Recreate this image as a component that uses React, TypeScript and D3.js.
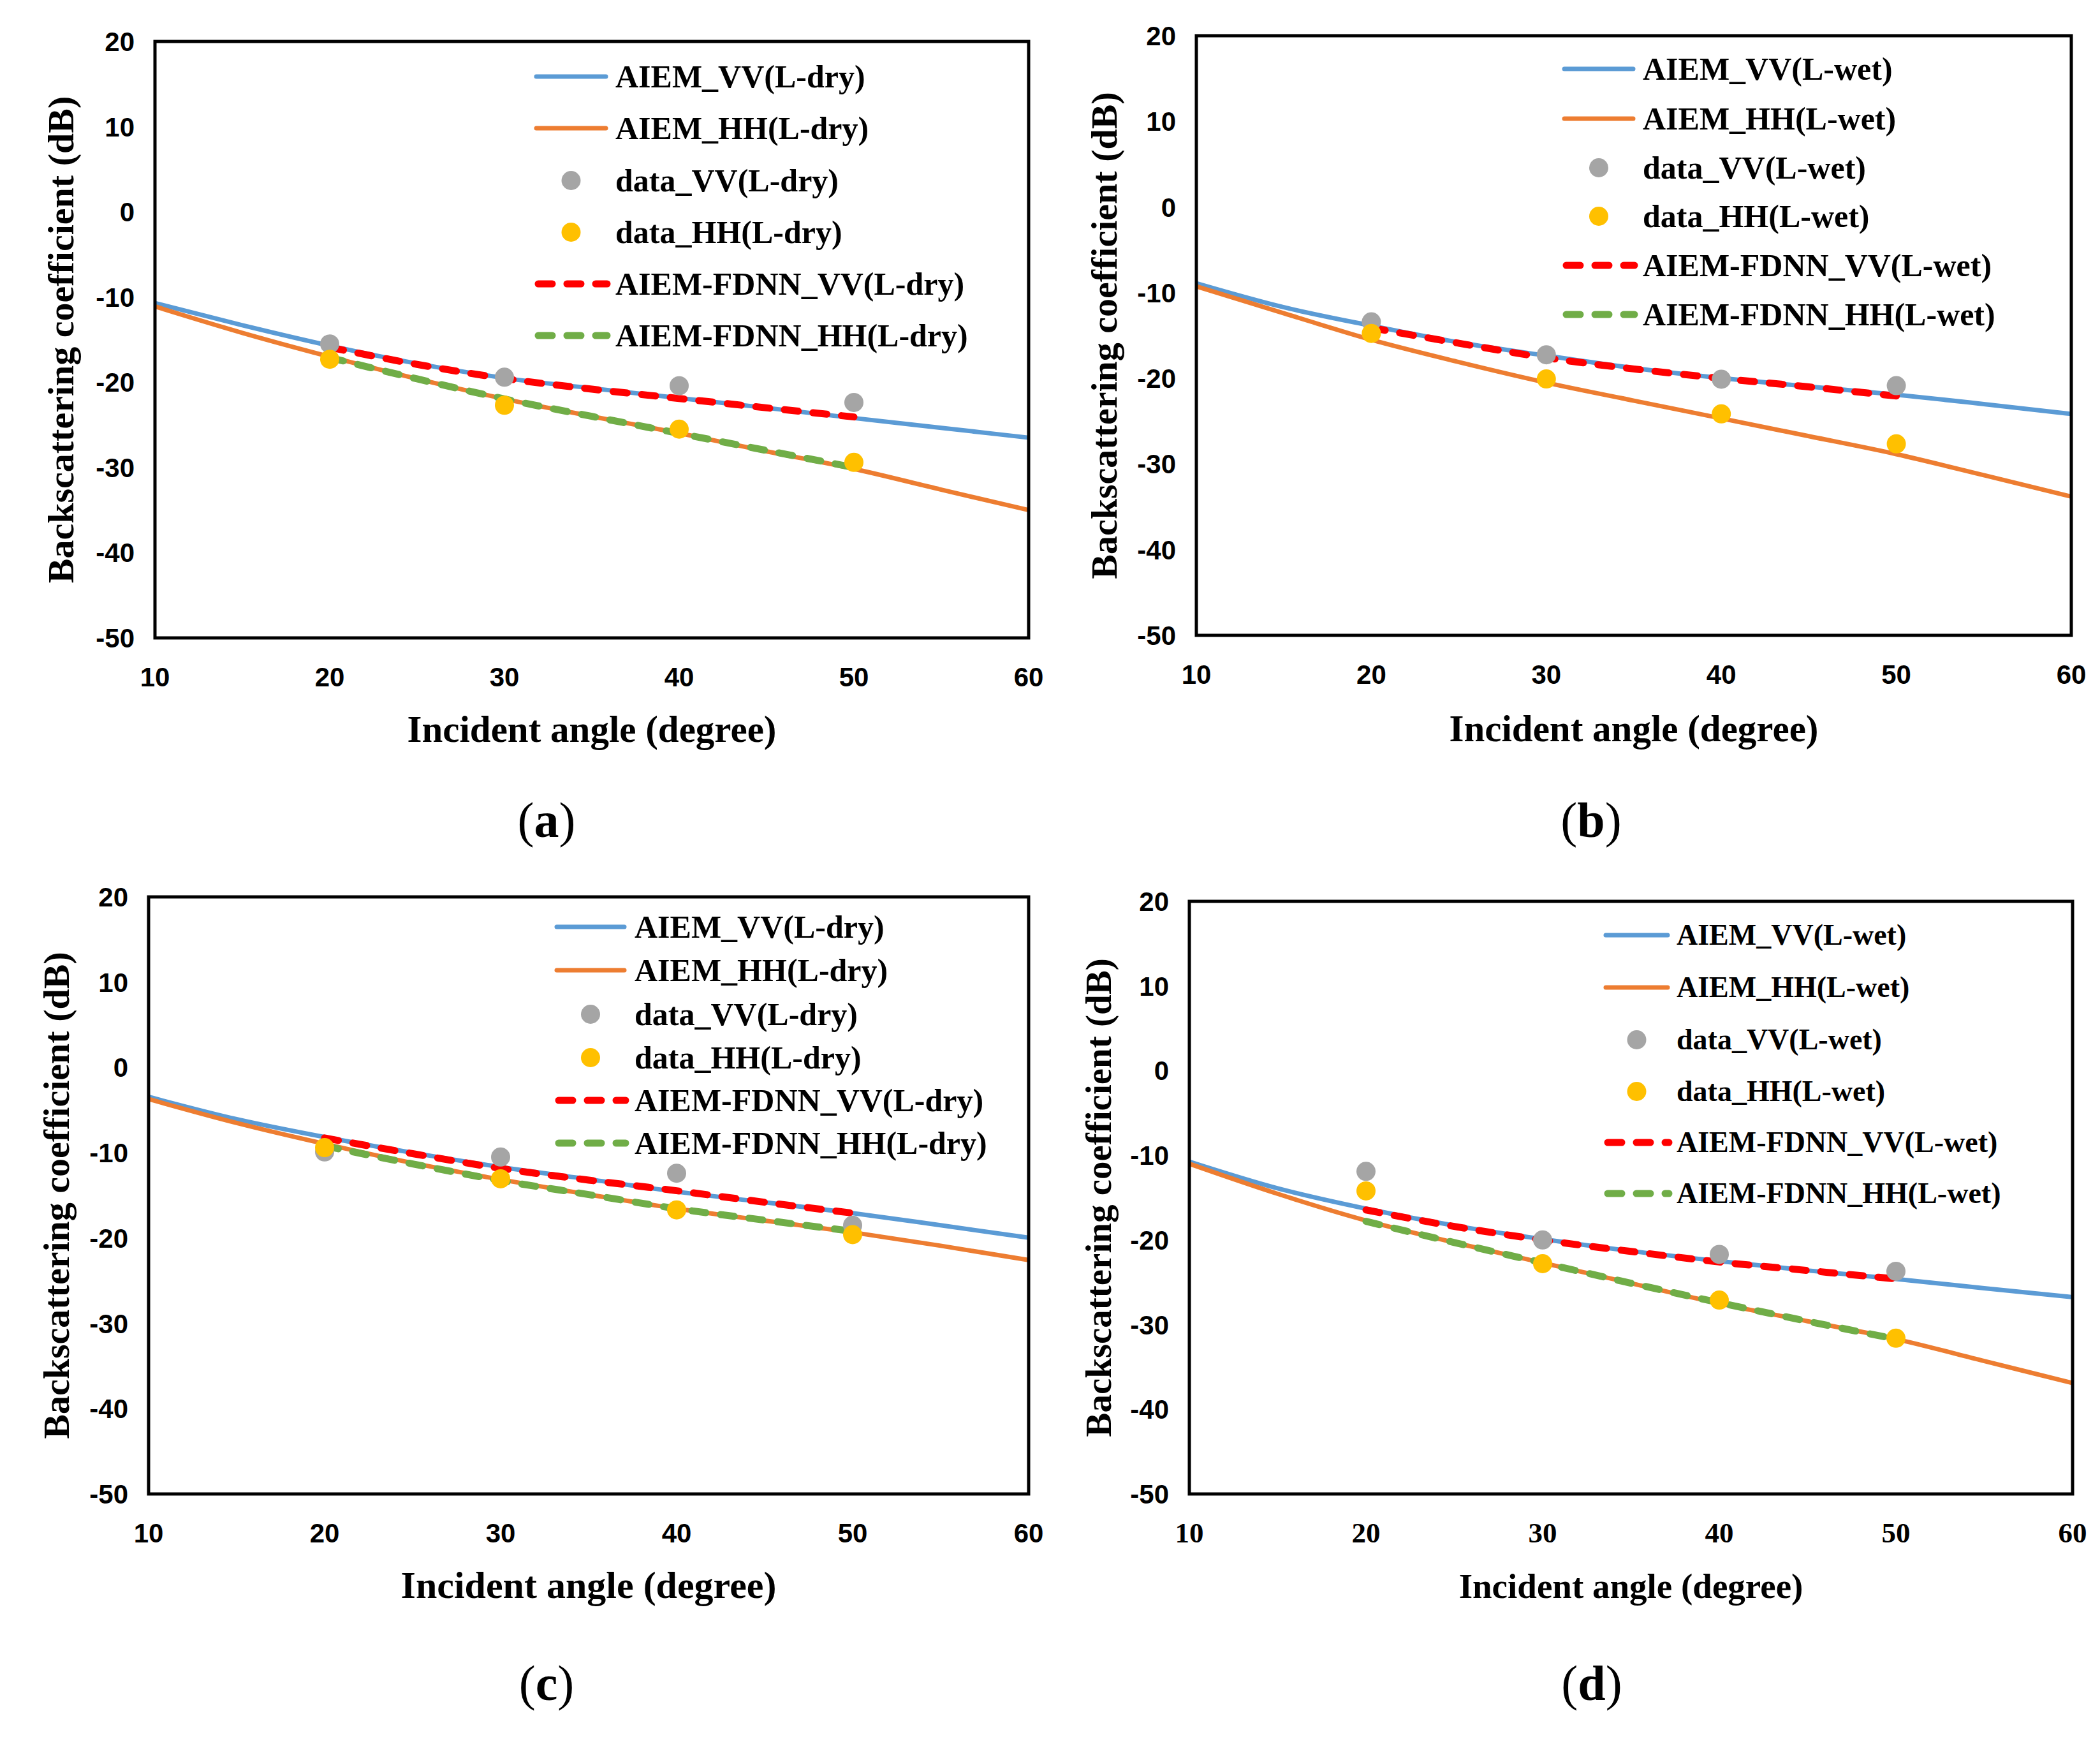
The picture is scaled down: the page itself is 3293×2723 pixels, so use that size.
import React from 'react';
import * as d3 from 'd3';

// Incident angles (degree)
const ANGLES_MODEL = [10, 15, 20, 25, 30, 35, 40, 45, 50, 55, 60];
const ANGLES_FDNN = [20, 25, 30, 35, 40, 45, 50];
const ANGLES_DATA = [20, 30, 40, 50];

const X_TICKS = [10, 20, 30, 40, 50, 60];
const Y_TICKS = [20, 10, 0, -10, -20, -30, -40, -50];

// (a) L-dry
const A_AIEM_VV = [-10.7, -13.3, -15.7, -17.8, -19.5, -20.7, -21.85, -23.0, -24.2, -25.35, -26.5];
const A_AIEM_HH = [-11.1, -14.2, -17.0, -19.6, -21.95, -24.0, -25.97, -28.1, -30.16, -32.6, -35.0];
const A_DATA_VV = [-15.5, -19.4, -20.4, -22.37];
const A_DATA_HH = [-17.3, -22.7, -25.5, -29.4];
const A_FDNN_VV = [-15.9, -17.9, -19.55, -20.8, -21.9, -23.0, -24.07];
const A_FDNN_HH = [-17.1, -19.6, -21.95, -24.0, -26.0, -28.0, -30.0];

// (b) L-wet
const B_AIEM_VV = [-8.9, -11.7, -13.85, -15.8, -17.35, -18.8, -19.97, -20.95, -21.9, -23.0, -24.15];
const B_AIEM_HH = [-9.26, -12.4, -15.5, -18.1, -20.5, -22.6, -24.67, -26.75, -28.85, -31.3, -33.8];
const B_DATA_VV = [-13.4, -17.25, -20.1, -20.85];
const B_DATA_HH = [-14.75, -20.07, -24.15, -27.65];
const B_FDNN_VV = [-14.1, -15.9, -17.6, -18.9, -20.0, -21.0, -22.06];
const B_FDNN_HH: number[] = [];

// (c) L-dry
const C_AIEM_VV = [-3.44, -6.06, -8.16, -10.0, -11.67, -13.1, -14.56, -15.8, -17.07, -18.5, -19.96];
const C_AIEM_HH = [-3.7, -6.5, -8.95, -11.2, -13.14, -14.9, -16.55, -17.95, -19.33, -20.9, -22.58];
const C_DATA_VV = [-9.9, -10.5, -12.4, -18.5];
const C_DATA_HH = [-9.4, -13.05, -16.7, -19.6];
const C_FDNN_VV = [-8.26, -10.1, -11.83, -13.2, -14.45, -15.8, -17.07];
const C_FDNN_HH = [-9.2, -11.3, -13.25, -14.9, -16.55, -17.9, -19.2];

// (d) L-wet
const D_AIEM_VV = [-10.75, -13.9, -16.3, -18.3, -19.9, -21.3, -22.5, -23.6, -24.6, -25.7, -26.75];
const D_AIEM_HH = [-11.0, -14.55, -17.7, -20.3, -22.7, -25.1, -27.5, -29.6, -31.7, -34.3, -36.9];
const D_DATA_VV = [-11.9, -20.0, -21.7, -23.7];
const D_DATA_HH = [-14.2, -22.8, -27.1, -31.6];
const D_FDNN_VV = [-16.45, -18.4, -20.0, -21.35, -22.6, -23.6, -24.6];
const D_FDNN_HH = [-17.8, -20.3, -22.7, -25.1, -27.4, -29.6, -31.7];

const SERIES = {
  a: { vv: A_AIEM_VV, hh: A_AIEM_HH, dvv: A_DATA_VV, dhh: A_DATA_HH, fvv: A_FDNN_VV, fhh: A_FDNN_HH },
  b: { vv: B_AIEM_VV, hh: B_AIEM_HH, dvv: B_DATA_VV, dhh: B_DATA_HH, fvv: B_FDNN_VV, fhh: B_FDNN_HH },
  c: { vv: C_AIEM_VV, hh: C_AIEM_HH, dvv: C_DATA_VV, dhh: C_DATA_HH, fvv: C_FDNN_VV, fhh: C_FDNN_HH },
  d: { vv: D_AIEM_VV, hh: D_AIEM_HH, dvv: D_DATA_VV, dhh: D_DATA_HH, fvv: D_FDNN_VV, fhh: D_FDNN_HH },
};

const CONDITION = { a: 'L-dry', b: 'L-wet', c: 'L-dry', d: 'L-wet' };

const COLORS = {
  vv: '#5B9BD5',
  hh: '#ED7D31',
  dvv: '#A5A5A5',
  dhh: '#FFC000',
  fvv: '#FF0000',
  fhh: '#70AD47',
};

const SANS = "'Liberation Sans', Arial, sans-serif";
const SERIF = "'Liberation Serif', 'Times New Roman', serif";

// Panel layout
const LAYOUT = [
  { id: 'a', left: 243, right: 1613, top: 65, bottom: 1000, yTitleX: 115, yTitleSize: 58, xTitleY: 1163, xTitleSize: 59,
    labelY: 1312, labelX: 857, legX: 841, legW: 109, legTextX: 965, legRows: [120, 201, 283, 364, 445, 526], legFont: 50, xTickSerif: false },
  { id: 'b', left: 1876, right: 3248, top: 56, bottom: 996, yTitleX: 1751, yTitleSize: 58, xTitleY: 1162, xTitleSize: 59,
    labelY: 1312, labelX: 2495, legX: 2453, legW: 108, legTextX: 2576, legRows: [108, 186, 263, 339, 416, 493], legFont: 50, xTickSerif: false },
  { id: 'c', left: 233, right: 1613, top: 1406, bottom: 2342, yTitleX: 108, yTitleSize: 58, xTitleY: 2505, xTitleSize: 60,
    labelY: 2665, labelX: 857, legX: 873, legW: 106, legTextX: 995, legRows: [1453, 1521, 1590, 1658, 1725, 1792], legFont: 50, xTickSerif: false },
  { id: 'd', left: 1865, right: 3250, top: 1413, bottom: 2342, yTitleX: 1742, yTitleSize: 57, xTitleY: 2505, xTitleSize: 55,
    labelY: 2665, labelX: 2496, legX: 2518, legW: 97, legTextX: 2629, legRows: [1466, 1548, 1630, 1711, 1791, 1871], legFont: 46, xTickSerif: true },
];

const DASH = '22 23';

function Panel({ cfg }) {
  const s = SERIES[cfg.id];
  const cond = CONDITION[cfg.id];
  const x = d3.scaleLinear().domain([10, 60]).range([cfg.left, cfg.right]);
  const y = d3.scaleLinear().domain([-50, 20]).range([cfg.bottom, cfg.top]);
  const line = d3
    .line<[number, number]>()
    .x((d) => x(d[0]))
    .y((d) => y(d[1]))
    .curve(d3.curveMonotoneX);

  const pairs = (xs: number[], ys: number[]) => ys.map((v, i) => [xs[i], v] as [number, number]);

  const legendItems = [
    { key: 'vv', kind: 'line', label: `AIEM_VV(${cond})` },
    { key: 'hh', kind: 'line', label: `AIEM_HH(${cond})` },
    { key: 'dvv', kind: 'dot', label: `data_VV(${cond})` },
    { key: 'dhh', kind: 'dot', label: `data_HH(${cond})` },
    { key: 'fvv', kind: 'dash', label: `AIEM-FDNN_VV(${cond})` },
    { key: 'fhh', kind: 'dash', label: `AIEM-FDNN_HH(${cond})` },
  ];

  const cx = (cfg.left + cfg.right) / 2;
  const cy = (cfg.top + cfg.bottom) / 2;

  return (
    <g>
      {/* model curves */}
      <path d={line(pairs(ANGLES_MODEL, s.vv)) || ''} fill="none" stroke={COLORS.vv} strokeWidth={7} strokeLinejoin="round" />
      <path d={line(pairs(ANGLES_MODEL, s.hh)) || ''} fill="none" stroke={COLORS.hh} strokeWidth={7} strokeLinejoin="round" />
      {/* network predictions */}
      {s.fvv.length > 0 && (
        <path d={line(pairs(ANGLES_FDNN, s.fvv)) || ''} fill="none" stroke={COLORS.fvv} strokeWidth={11}
          strokeDasharray={DASH} strokeLinecap="round" />
      )}
      {s.fhh.length > 0 && (
        <path d={line(pairs(ANGLES_FDNN, s.fhh)) || ''} fill="none" stroke={COLORS.fhh} strokeWidth={11}
          strokeDasharray={DASH} strokeLinecap="round" />
      )}
      {/* measurements */}
      {s.dvv.map((v, i) => (
        <circle key={'dv' + i} cx={x(ANGLES_DATA[i])} cy={y(v)} r={15} fill={COLORS.dvv} />
      ))}
      {s.dhh.map((v, i) => (
        <circle key={'dh' + i} cx={x(ANGLES_DATA[i])} cy={y(v)} r={15} fill={COLORS.dhh} />
      ))}

      {/* frame */}
      <rect x={cfg.left} y={cfg.top} width={cfg.right - cfg.left} height={cfg.bottom - cfg.top}
        fill="none" stroke="#000" strokeWidth={5} />

      {/* y tick labels */}
      {Y_TICKS.map((t) => (
        <text key={'y' + t} x={cfg.left - 32} y={y(t) + 15} textAnchor="end"
          fontFamily={SANS} fontWeight="bold" fontSize={42} fill="#000">{t}</text>
      ))}
      {/* x tick labels */}
      {X_TICKS.map((t) => (
        <text key={'x' + t} x={x(t)} y={cfg.bottom + 76} textAnchor="middle"
          fontFamily={cfg.xTickSerif ? SERIF : SANS} fontWeight="bold" fontSize={cfg.xTickSerif ? 45 : 42} fill="#000">{t}</text>
      ))}

      {/* axis titles */}
      <text x={cx} y={cfg.xTitleY} textAnchor="middle" fontFamily={SERIF} fontWeight="bold"
        fontSize={cfg.xTitleSize} fill="#000">Incident angle (degree)</text>
      <text transform={`translate(${cfg.yTitleX},${cy}) rotate(-90)`} textAnchor="middle" fontFamily={SERIF}
        fontWeight="bold" fontSize={cfg.yTitleSize} fill="#000">Backscattering coefficient (dB)</text>

      {/* legend */}
      {legendItems.map((it, i) => {
        const ry = cfg.legRows[i];
        const x0 = cfg.legX;
        const x1 = cfg.legX + cfg.legW;
        let mark;
        if (it.kind === 'line') {
          mark = <line x1={x0} x2={x1} y1={ry} y2={ry} stroke={COLORS[it.key]} strokeWidth={7} strokeLinecap="round" />;
        } else if (it.kind === 'dash') {
          mark = <line x1={x0 + 3} x2={x1 + 2} y1={ry} y2={ry} stroke={COLORS[it.key]} strokeWidth={11}
            strokeDasharray={DASH} strokeLinecap="round" />;
        } else {
          mark = <circle cx={(x0 + x1) / 2} cy={ry} r={15} fill={COLORS[it.key]} />;
        }
        return (
          <g key={it.key}>
            {mark}
            <text x={cfg.legTextX} y={ry + cfg.legFont * 0.33} fontFamily={SERIF} fontWeight="bold"
              fontSize={cfg.legFont} fill="#000">{it.label}</text>
          </g>
        );
      })}

      {/* sub-figure label */}
      <text x={cfg.labelX} y={cfg.labelY} textAnchor="middle" fontFamily={SERIF} fontSize={78} fill="#000">
        (<tspan fontWeight="bold">{cfg.id}</tspan>)
      </text>
    </g>
  );
}

export default function App() {
  return (
    <svg width={3293} height={2723} viewBox="0 0 3293 2723"
      style={{ position: 'absolute', left: 0, top: 0, background: '#fff' }}>
      <rect x={0} y={0} width={3293} height={2723} fill="#fff" />
      {LAYOUT.map((cfg) => (
        <Panel key={cfg.id} cfg={cfg} />
      ))}
    </svg>
  );
}
